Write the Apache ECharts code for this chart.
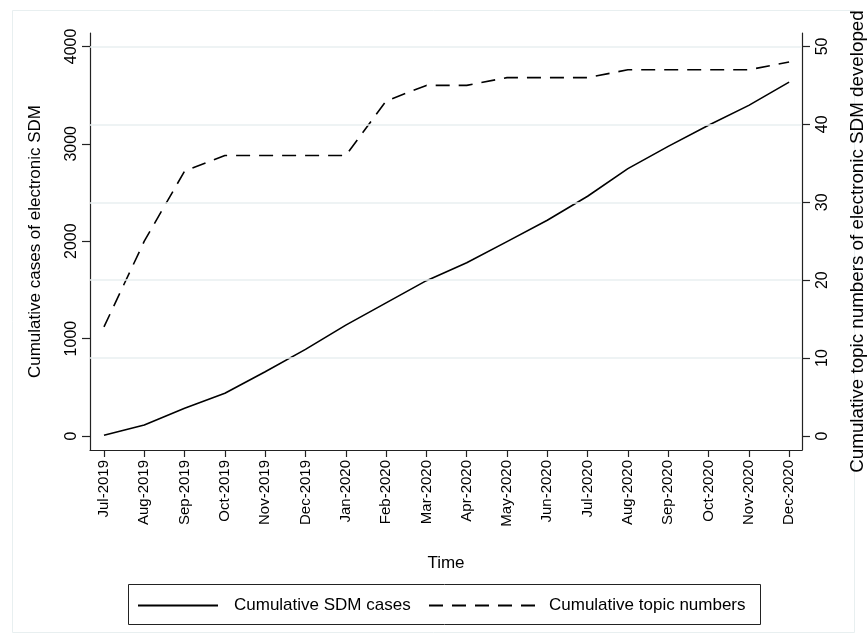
<!DOCTYPE html>
<html>
<head>
<meta charset="utf-8">
<script src="https://cdn.jsdelivr.net/npm/echarts@6/dist/echarts.min.js"></script>
<style>
html,body{margin:0;padding:0;background:#fff;}
#chart{width:867px;height:635px;}
</style>
</head>
<body>
<div id="chart"></div>
<script>
// ---- data ----
var months = ['Jul-2019','Aug-2019','Sep-2019','Oct-2019','Nov-2019','Dec-2019','Jan-2020','Feb-2020','Mar-2020','Apr-2020','May-2020','Jun-2020','Jul-2020','Aug-2020','Sep-2020','Oct-2020','Nov-2020','Dec-2020'];
var sdmCases = [8, 113, 284, 438, 660, 889, 1138, 1367, 1595, 1778, 1996, 2215, 2462, 2745, 2974, 3190, 3395, 3634];
var topicNumbers = [14, 25, 34, 36, 36, 36, 36, 43, 45, 45, 46, 46, 46, 47, 47, 47, 47, 48];
var leftTicks = [0, 1000, 2000, 3000, 4000];
var rightTicks = [0, 10, 20, 30, 40, 50];
var gridValues = [10, 20, 30, 40, 50];
var seriesNames = ['Cumulative SDM cases', 'Cumulative topic numbers'];

var FONT = '"Liberation Sans", Arial, Helvetica, sans-serif';
var idx = months.map(function (m, i) { return i; });
function plain(v) { return String(Math.round(v)); }

var chart = echarts.init(document.getElementById('chart'), null, {renderer: 'canvas'});
var option = {
  backgroundColor: '#ffffff',
  animation: false,
  textStyle: {fontFamily: FONT, color: '#000'},
  graphic: [
    {type: 'rect', shape: {x: 12.5, y: 10.5, width: 842, height: 622}, style: {fill: 'none', stroke: '#e8eff0', lineWidth: 1}, silent: true, z: 0},
    {type: 'rect', shape: {x: 128.5, y: 584.5, width: 632, height: 40}, style: {fill: 'none', stroke: '#222', lineWidth: 1}, silent: true, z: 0}
  ],
  grid: {left: 90, right: 65, top: 33, bottom: 185, containLabel: false, outerBoundsMode: 'none'},
  xAxis: {
    type: 'value',
    min: -0.347, max: 17.32,
    name: 'Time', nameLocation: 'middle', nameGap: 105,
    nameTextStyle: {fontFamily: FONT, fontSize: 17, color: '#000'},
    axisLine: {show: true, onZero: false, lineStyle: {color: '#222', width: 1.2}},
    axisTick: {show: true, length: 7, customValues: idx, lineStyle: {color: '#222', width: 1.2}},
    axisLabel: {show: true, customValues: idx, rotate: 90, margin: 10, fontFamily: FONT, fontSize: 15, color: '#000',
      formatter: function (v) { return months[Math.round(v)]; }},
    splitLine: {show: false}
  },
  yAxis: [
    {
      type: 'value', position: 'left',
      min: -144, max: 4138,
      name: 'Cumulative cases of electronic SDM', nameLocation: 'middle', nameGap: 46,
      nameTextStyle: {fontFamily: FONT, fontSize: 17, color: '#000'},
      axisLine: {show: true, onZero: false, lineStyle: {color: '#222', width: 1.2}},
      axisTick: {show: true, length: 8, customValues: leftTicks, lineStyle: {color: '#222', width: 1.2}},
      axisLabel: {show: true, customValues: leftTicks, rotate: 90, margin: 10, fontFamily: FONT, fontSize: 16, color: '#000', formatter: plain},
      splitLine: {show: false}
    },
    {
      type: 'value', position: 'right',
      min: -1.8, max: 51.725,
      name: 'Cumulative topic numbers of electronic SDM developed', nameLocation: 'middle', nameGap: 46, nameRotate: 90,
      nameTextStyle: {fontFamily: FONT, fontSize: 18.8, color: '#000'},
      axisLine: {show: true, onZero: false, lineStyle: {color: '#222', width: 1.2}},
      axisTick: {show: true, length: 8, customValues: rightTicks, lineStyle: {color: '#222', width: 1.2}},
      axisLabel: {show: true, customValues: rightTicks, rotate: 90, margin: 13, fontFamily: FONT, fontSize: 16, color: '#000', formatter: plain},
      splitLine: {show: false}
    }
  ],
  legend: [
    {data: [seriesNames[0]], left: 137, top: 597, itemWidth: 80, itemHeight: 16, padding: 0,
      itemStyle: {opacity: 0, borderWidth: 0},
      textStyle: {fontFamily: FONT, fontSize: 17, color: '#000', padding: [0, 0, 0, 11]}},
    {data: [seriesNames[1]], left: 428, top: 597, itemWidth: 107, itemHeight: 16, padding: 0,
      itemStyle: {opacity: 0, borderWidth: 0},
      textStyle: {fontFamily: FONT, fontSize: 17, color: '#000', padding: [0, 0, 0, 8]}}
  ],
  series: [
    {
      name: 'grid', type: 'line', yAxisIndex: 1, data: [], silent: true, z: 1,
      markLine: {silent: true, symbol: 'none', label: {show: false},
        lineStyle: {color: '#e8eff1', type: 'solid', width: 1.5},
        data: gridValues.map(function (v) { return {yAxis: v}; })}
    },
    {
      name: seriesNames[0], type: 'line', yAxisIndex: 0, z: 3,
      data: sdmCases.map(function (v, i) { return [i, v]; }),
      symbol: 'none', showSymbol: false,
      lineStyle: {color: '#000', width: 1.6, type: 'solid'},
      itemStyle: {color: '#000'}
    },
    {
      name: seriesNames[1], type: 'line', yAxisIndex: 1, z: 3,
      data: topicNumbers.map(function (v, i) { return [i, v]; }),
      symbol: 'none', showSymbol: false,
      lineStyle: {color: '#000', width: 1.6, type: [14, 9]},
      itemStyle: {color: '#000'}
    }
  ]
};
chart.setOption(option);
</script>
</body>
</html>
